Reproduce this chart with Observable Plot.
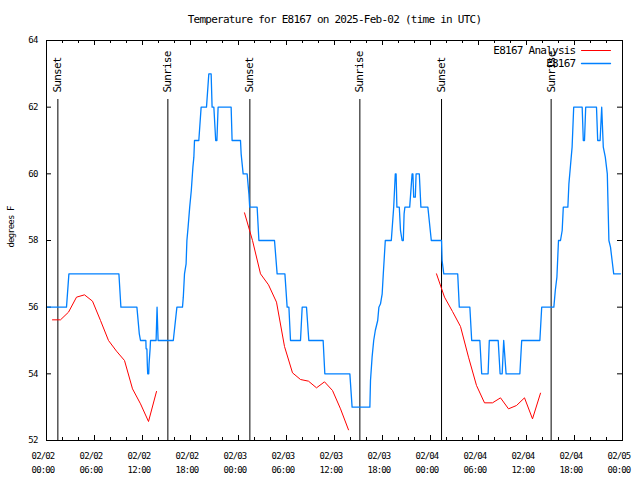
<!DOCTYPE html>
<html>
<head>
<meta charset="utf-8">
<script src="https://cdn.jsdelivr.net/npm/d3@7"></script>
<script src="https://cdn.jsdelivr.net/npm/@observablehq/plot@0.6"></script>
<style>
  body { margin: 0; background: #fff; }
  g[aria-description="big"] text { letter-spacing: -0.75px; }
  g[aria-description="small"] text { letter-spacing: -0.85px; }
</style>
</head>
<body>
<div id="chart"></div>
<script>
// ---- Data ----
const titleText = "Temperature for E8167 on 2025-Feb-02 (time in UTC)";
const yLabelText = "degrees F";
const seriesNames = ["E8167 Analysis", "E8167"];
const seriesColors = ["#ff0000", "#0080ff"];

// Observed temperature (E8167), hours since 2025-02-02 00:00 UTC
const obsHour = [0, 2.5, 2.8, 9.05, 9.3, 11.3, 11.6, 11.75, 12.42, 12.45, 12.55, 12.6, 12.65, 12.78, 12.82, 12.95, 13.0,
  13.7, 13.82, 13.95, 15.85, 16.3, 17.0, 17.1, 17.25, 17.45, 17.55, 17.7, 17.9, 18.1, 18.3, 18.42, 18.5, 19.04, 19.33,
  20.0, 20.29, 20.58, 20.7, 20.92, 21.15, 21.3, 21.45, 23.08, 23.2, 24.25, 24.33, 24.58, 25.08, 25.3, 25.4, 26.33, 26.55,
  28.5, 28.83, 29.8, 30.08, 30.3, 30.5, 31.75, 31.96, 32.5, 32.79, 34.58, 34.79, 37.92, 38.2, 40.42, 40.5, 40.7, 40.9,
  41.1, 41.4, 41.55, 41.75, 41.96, 42.1, 42.35, 43.1, 43.4, 43.6, 43.7, 43.8, 44.1, 44.25, 44.45, 44.6, 44.7, 44.8,
  45.4, 45.7, 45.8, 45.9, 46.1, 46.2, 46.6, 46.8, 47.67, 48.1, 49.38, 49.45, 49.66, 51.4, 51.6, 52.92, 53.15, 54.17,
  54.4, 55.2, 55.35, 56.46, 56.7, 56.96, 57.15, 57.45, 59.17, 59.4, 61.67, 61.9, 63.42, 63.6, 63.8, 64.0, 64.25, 64.46,
  64.6, 65.17, 65.3, 65.5, 65.7, 65.9, 66.96, 67.1, 67.25, 67.4, 68.75, 68.9, 69.2, 69.4, 69.6, 69.85, 70.1, 70.3,
  70.5, 70.7, 70.9, 71.75];
const obsTemp = [56, 56, 57, 57, 56, 56, 55.2, 55, 55, 54.75, 54.75, 54.3, 54, 54, 54.3, 54.75, 55,
  55, 56, 55, 55, 56, 56, 56.3, 57, 57.3, 58, 58.4, 59, 59.5, 60.2, 60.5, 61, 61, 62,
  62, 63, 63, 62, 62, 61, 61, 62, 62, 61, 61, 60.6, 60, 60, 59.4, 59, 59, 58,
  58, 57, 57, 56, 56, 55, 55, 56, 56, 55, 55, 54, 54, 53, 53, 53.8, 54.5, 55,
  55.3, 55.6, 56, 56.1, 56.4, 57, 58, 58, 59, 60, 60, 59, 59, 58.3, 58, 58, 58.8, 59,
  59, 60, 60, 59.3, 59.3, 60, 60, 59, 59, 58, 58, 57.4, 57, 57, 56, 56, 55, 55,
  54, 54, 55, 55, 54, 54, 55, 54, 54, 55, 55, 56, 56, 56.5, 56.9, 58, 58, 58.3,
  59, 59, 59.7, 60.25, 60.8, 62, 62, 61, 61, 62, 62, 61, 61, 62, 60.8, 60.5, 60, 58,
  57.8, 57.4, 57, 57];

// Analysis (hourly), three runs
const anaHour = [0.75, 1.75, 2.75, 3.75, 4.75, 5.75, 6.75, 7.75, 8.75, 9.75, 10.75, 11.75, 12.75, 13.75,
  24.75, 25.75, 26.75, 27.75, 28.75, 29.75, 30.75, 31.75, 32.75, 33.75, 34.75, 35.75, 36.75, 37.75,
  48.75, 49.75, 50.75, 51.75, 52.75, 53.75, 54.75, 55.75, 56.75, 57.75, 58.75, 59.75, 60.75, 61.75];
const anaTemp = [55.62, 55.62, 55.85, 56.3, 56.37, 56.18, 55.6, 55.0, 54.68, 54.4, 53.55, 53.1, 52.57, 53.47,
  58.83, 58.0, 57.0, 56.67, 56.15, 54.82, 54.03, 53.83, 53.78, 53.58, 53.76, 53.5, 52.95, 52.32,
  57.0, 56.3, 55.87, 55.42, 54.5, 53.65, 53.13, 53.13, 53.28, 52.95, 53.05, 53.28, 52.65, 53.42];
const anaRun = [1,1,1,1,1,1,1,1,1,1,1,1,1,1, 2,2,2,2,2,2,2,2,2,2,2,2,2,2, 3,3,3,3,3,3,3,3,3,3,3,3,3,3];

// Sunrise / sunset events
const sunHour = [1.42, 15.17, 25.42, 39.17, 49.38, 63.08];
const sunLabel = ["Sunset", "Sunrise", "Sunset", "Sunrise", "Sunset", "Sunrise"];

// Axis ticks
const xMajorTicks = [0, 6, 12, 18, 24, 30, 36, 42, 48, 54, 60, 66, 72];
const xTickLabels = ["02/02\n00:00", "02/02\n06:00", "02/02\n12:00", "02/02\n18:00", "02/03\n00:00", "02/03\n06:00",
  "02/03\n12:00", "02/03\n18:00", "02/04\n00:00", "02/04\n06:00", "02/04\n12:00", "02/04\n18:00", "02/05\n00:00"];
const xMinorTicks = [2, 4, 8, 10, 14, 16, 20, 22, 26, 28, 32, 34, 38, 40, 44, 46, 50, 52, 56, 58, 62, 64, 68, 70];
const yTicks = [52, 54, 56, 58, 60, 62, 64];
const yDomain = [52, 64];
const xDomain = [0, 72];
const sunLineTop = 62.23;
const sunLabelY = 62.44;

// ---- Build tables ----
const obs = obsHour.map((h, i) => ({hour: h, temp: obsTemp[i]}));
const ana = anaHour.map((h, i) => ({hour: h, temp: anaTemp[i], run: anaRun[i]}));
const sun = sunHour.map((h, i) => ({hour: h, label: sunLabel[i]}));
const xt = xMajorTicks.map((h, i) => ({hour: h, label: xTickLabels[i]}));

const FONT = "DejaVu Sans Mono";
const BIG = 11, SMALL = 9;
const lineShape = {draw(ctx, l) { ctx.moveTo(0, 0); ctx.lineTo(0, -l); }};

const chart = Plot.plot({
  width: 640, height: 480,
  marginLeft: 46, marginRight: 18, marginTop: 40, marginBottom: 40,
  x: {domain: xDomain, axis: null},
  y: {domain: yDomain, axis: null},
  style: {fontFamily: FONT, background: "#fff", color: "#000", overflow: "visible"},
  marks: [
    // ticks (inward, mirrored)
    Plot.tickX(xMajorTicks, {x: d => d, insetTop: 395, stroke: "#000"}),
    Plot.tickX(xMajorTicks, {x: d => d, insetBottom: 395, stroke: "#000"}),
    Plot.tickX(xMinorTicks, {x: d => d, insetTop: 397, stroke: "#000"}),
    Plot.tickX(xMinorTicks, {x: d => d, insetBottom: 397, stroke: "#000"}),
    Plot.tickY(yTicks, {y: d => d, insetRight: 571, stroke: "#000"}),
    Plot.tickY(yTicks, {y: d => d, insetLeft: 571, stroke: "#000"}),
    // sunrise/sunset
    Plot.ruleX(sun, {x: "hour", y1: yDomain[0], y2: sunLineTop, stroke: "#000", strokeWidth: 1}),
    Plot.text(sun, {x: "hour", y: sunLabelY, text: "label", rotate: -90, textAnchor: "start", lineAnchor: "middle",
      fontSize: BIG, fontFamily: FONT, fill: "#000", ariaDescription: "big"}),
    // data
    Plot.line(ana, {x: "hour", y: "temp", z: "run", stroke: seriesColors[0], strokeWidth: 1}),
    Plot.line(obs, {x: "hour", y: "temp", stroke: seriesColors[1], strokeWidth: 1.3}),
    // frame
    Plot.frame({stroke: "#000"}),
    // tick labels
    Plot.text(xt, {x: "hour", text: "label", frameAnchor: "bottom", dx: -3.5, dy: 21, lineAnchor: "middle", lineHeight: 1.5,
      fontSize: SMALL, fontFamily: FONT, fill: "#000", ariaDescription: "small"}),
    Plot.text(yTicks, {y: d => d, text: d => String(d), frameAnchor: "left", dx: -9, textAnchor: "end", lineAnchor: "middle",
      fontSize: SMALL, fontFamily: FONT, fill: "#000", ariaDescription: "small"}),
    // axis label
    Plot.text([yLabelText], {text: d => d, frameAnchor: "left", dx: -35, dy: 7, rotate: -90, lineAnchor: "middle",
      fontSize: SMALL, fontFamily: FONT, fill: "#000", ariaDescription: "small"}),
    // title
    Plot.text([titleText], {text: d => d, frameAnchor: "top", dy: -21, lineAnchor: "middle",
      fontSize: BIG, fontFamily: FONT, fill: "#000", ariaDescription: "big"}),
    // legend
    Plot.text([seriesNames[0]], {text: d => d, frameAnchor: "top-right", dx: -47, dy: 9.5, textAnchor: "end", lineAnchor: "middle",
      fontSize: BIG, fontFamily: FONT, fill: "#000", ariaDescription: "big"}),
    Plot.text([seriesNames[1]], {text: d => d, frameAnchor: "top-right", dx: -47, dy: 23, textAnchor: "end", lineAnchor: "middle",
      fontSize: BIG, fontFamily: FONT, fill: "#000", ariaDescription: "big"}),
    Plot.vector([seriesNames[0]], {frameAnchor: "top-right", dx: -41, dy: 10, rotate: 90, length: 29,
      anchor: "start", shape: lineShape, stroke: seriesColors[0], strokeWidth: 1}),
    Plot.vector([seriesNames[1]], {frameAnchor: "top-right", dx: -41, dy: 23, rotate: 90, length: 29,
      anchor: "start", shape: lineShape, stroke: seriesColors[1], strokeWidth: 1.3})
  ]
});
document.getElementById("chart").append(chart);
</script>
</body>
</html>
